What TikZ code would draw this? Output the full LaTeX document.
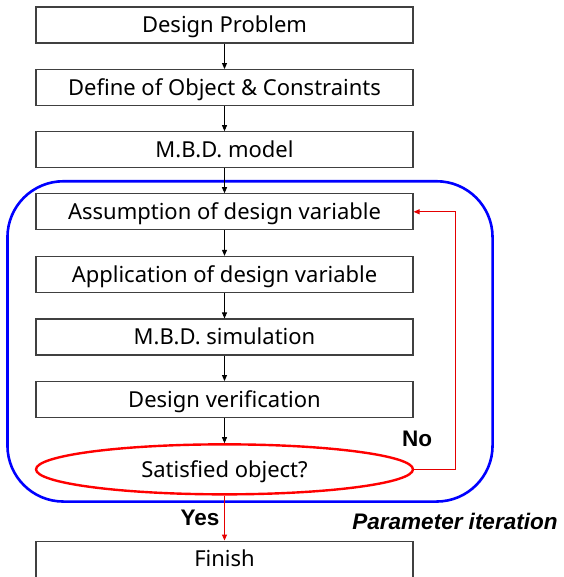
\documentclass[tikz,border=0pt]{standalone}
\usepackage{fontspec}
\setmainfont{Noto Sans}
\newfontfamily\lblfont{Liberation Sans}
\usetikzlibrary{arrows.meta,positioning,shapes.geometric,calc}

\begin{document}
\begin{tikzpicture}[
  x=1pt, y=1pt, font=\fontsize{22}{26}\selectfont,
  >={Triangle[length=6pt, width=5pt]},
  stepbox/.style={draw=black!75, line width=1.1pt, minimum width=377pt,
                  minimum height=36pt, inner sep=1pt, text height=15.5pt, text depth=0pt},
  check/.style={ellipse, draw=red, line width=2.4pt, minimum width=377pt,
                minimum height=50pt, inner sep=0pt, text height=15.5pt, text depth=0pt},
  a/.style={->, line width=0.9pt, draw=black},
  fb/.style={->, line width=0.9pt, draw=red!90!black},
  loopbox/.style={draw=blue, line width=2.6pt, rounded corners=56pt},
  lbl/.style={font=\lblfont\fontsize{22.5}{26}\selectfont\bfseries},
]
\useasboundingbox (0,0) rectangle (563,-577);
\node[stepbox] (prob) at (224.5,-25) {Design Problem};
\node[stepbox, below=25.5pt of prob] (obj) {Define of Object \& Constraints};
\node[stepbox, below=25pt of obj] (model) {M.B.D. model};
\node[stepbox, below=25pt of model] (assume) {Assumption of design variable};
\node[stepbox, below=25.5pt of assume] (apply) {Application of design variable};
\node[stepbox, below=25.5pt of apply] (sim) {M.B.D. simulation};
\node[stepbox, below=25.5pt of sim] (verify) {Design verification};
\node[check, below=25pt of verify] (sat) {Satisfied object?};
\node[stepbox, below=45pt of sat] (finish) {Finish};
% parameter iteration loop
\draw[loopbox] ($(assume.north west)+(-28,12)$) rectangle ($(sat.south -| assume.east)+(79,-6)$);
\node[lbl] (no) at (417,-439) {No};
\node[lbl] (yes) at (200,-518) {Yes};
\node[lbl, font=\lblfont\fontsize{22.5}{26}\selectfont\bfseries\itshape] (iter) at (455,-521) {Parameter iteration};
\draw[a] (prob) -- (obj);
\draw[a] (obj) -- (model);
\draw[a] (model) -- (assume);
\draw[a] (assume) -- (apply);
\draw[a] (apply) -- (sim);
\draw[a] (sim) -- (verify);
\draw[a] (verify) -- (sat);
\draw[fb] (sat) -- (finish);
\draw[fb] (sat.east) -- ++(41,0) |- (assume.east);
\end{tikzpicture}
\end{document}
